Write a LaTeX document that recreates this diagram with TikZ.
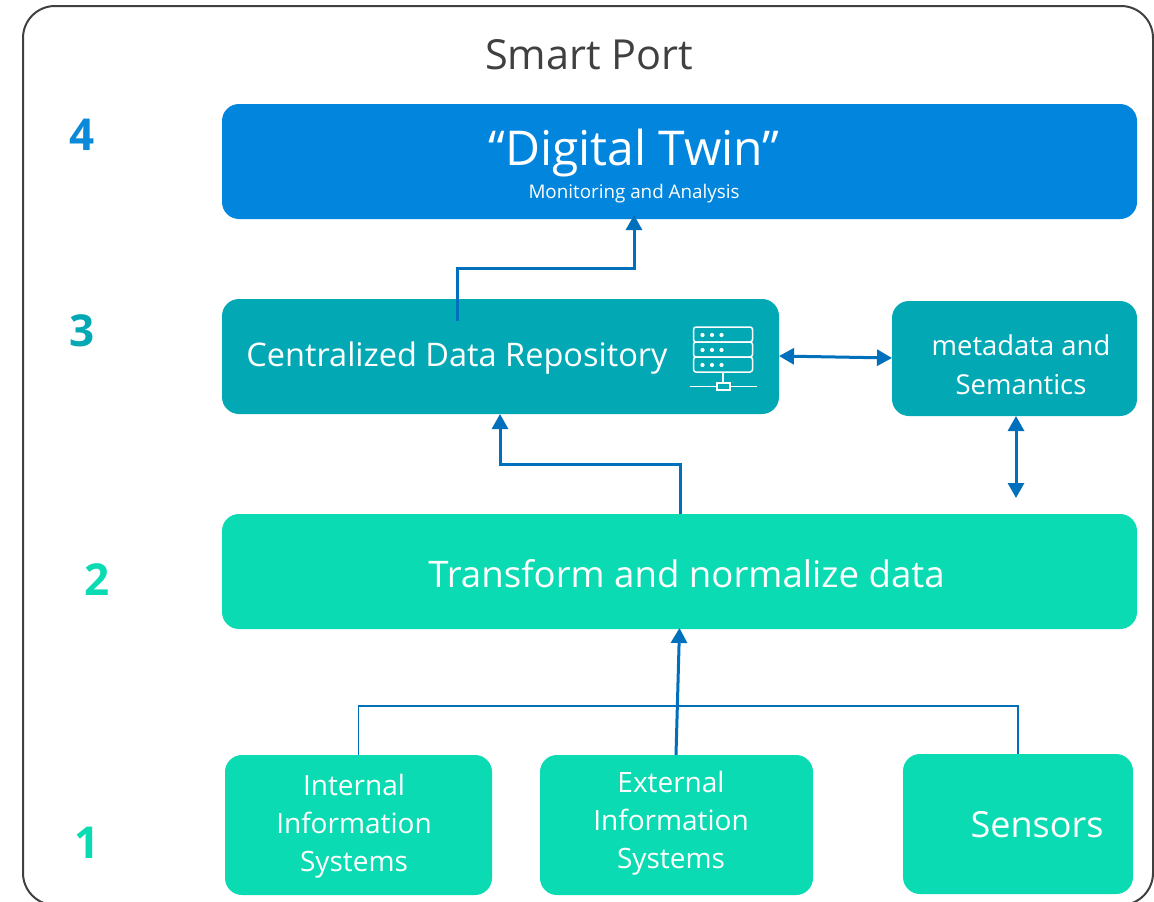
\documentclass[tikz,border=0pt]{standalone}
\usepackage{fontspec}
\setmainfont{Open Sans}
\usetikzlibrary{arrows.meta}
\definecolor{twinblue}{HTML}{0285DD}
\definecolor{repoteal}{HTML}{02A9B5}
\definecolor{mint}{HTML}{0ADBB2}
\definecolor{arrowblue}{HTML}{0070BC}
\definecolor{frameink}{HTML}{404040}
\definecolor{numfour}{HTML}{0A8AD8}
\definecolor{numthree}{HTML}{02A9B5}
\tikzset{
  x=1pt,y=-1pt,
  blockbox/.style={rectangle,rounded corners=17pt,inner sep=0pt,draw=none},
  labeltext/.style={text=white,inner sep=0pt,align=center},
  levelnum/.style={inner sep=0pt,font=\fontsize{44}{48}\selectfont\bfseries},
  flow/.style={draw=arrowblue,line width=3pt,-{Triangle[length=15pt,width=16pt]}},
  twoway/.style={draw=arrowblue,line width=3pt,{Triangle[length=15pt,width=16pt]}-{Triangle[length=15pt,width=16pt]}},
  thinlink/.style={draw=arrowblue,line width=1.3pt},
  iconline/.style={draw=white,line width=1.5pt},
}
\begin{document}
\begin{tikzpicture}
\useasboundingbox (0,0) rectangle (1154,902);
\fill[white] (0,0) rectangle (1154,902);
\begin{scope}
\clip (0,0) rectangle (1154,902);
\draw[frameink,line width=2pt,rounded corners=32pt] (23,905) -- (23,6) -- (1153,6) -- (1153,905) -- cycle;
\end{scope}
\node[inner sep=0pt,text=frameink,font=\fontsize{41.4}{46}\selectfont] (title) at (589,55) {Smart Port};

\node[blockbox,fill=twinblue,minimum width=915pt,minimum height=115pt] (twin) at (679.5,161.5) {};
\node[blockbox,fill=repoteal,minimum width=557pt,minimum height=115pt] (repo) at (500.5,356.5) {};
\node[blockbox,fill=repoteal,minimum width=245pt,minimum height=115pt] (meta) at (1014.5,358.5) {};
\node[blockbox,fill=mint,minimum width=915pt,minimum height=115pt] (transform) at (679.5,571.5) {};
\node[blockbox,fill=mint,minimum width=267pt,minimum height=140pt] (internal) at (358.5,825) {};
\node[blockbox,fill=mint,minimum width=273pt,minimum height=140pt] (external) at (676.5,825) {};
\node[blockbox,fill=mint,minimum width=230pt,minimum height=140pt] (sensors) at (1018,824) {};

\node[labeltext,font=\fontsize{48}{52}\selectfont] (twinlabel) at (634,153) {“Digital Twin”};
\node[labeltext,font=\fontsize{18.8}{22}\selectfont] (twinsub) at (634,193.5) {Monitoring and Analysis};
\node[labeltext,font=\fontsize{32.5}{38}\selectfont] (repolabel) at (457,358) {Centralized Data Repository};
\node[labeltext,font=\fontsize{27.4}{39}\selectfont] (metalabel) at (1021,364.5) {metadata and\\Semantics};
\node[labeltext,font=\fontsize{36.6}{42}\selectfont] (translabel) at (686.5,574) {Transform and normalize data};
\node[labeltext,font=\fontsize{28}{38}\selectfont] (intlabel) at (354,826.5) {Internal\\Information\\Systems};
\node[labeltext,font=\fontsize{28}{38}\selectfont] (extlabel) at (671,823.5) {External\\Information\\Systems};
\node[labeltext,font=\fontsize{36}{42}\selectfont] (senslabel) at (1037,824.5) {Sensors};

\node[levelnum,text=numfour] (lfour) at (82,135) {4};
\node[levelnum,text=numthree] (lthree) at (82,331) {3};
\node[levelnum,text=mint] (ltwo) at (97,580) {2};
\node[levelnum,text=mint] (lone) at (87,843) {1};

% server icon
\draw[iconline,rounded corners=2.5pt] (693.5,327) rectangle (752.5,342);
\draw[iconline,rounded corners=2.5pt] (693.5,342) rectangle (752.5,357);
\draw[iconline,rounded corners=2.5pt] (693.5,357) rectangle (752.5,372);
\foreach \yy in {335,350,365}{\foreach \xx in {702.5,712,721.5}{\fill[white] (\xx,\yy) circle (2.1pt);}}
\draw[iconline] (723,372) -- (723,383);
\draw[iconline] (690,386.5) -- (717,386.5);
\draw[iconline] (730,386.5) -- (757,386.5);
\draw[iconline] (717,383) rectangle (730,390);

% connectors
\coordinate (repoup) at (457,321);
\coordinate (twinin) at (634,215);
\draw[flow] (repoup) -- (457,268) -- (634,268) -- (twinin);
\coordinate (transout) at (680,514);
\coordinate (repoin) at (500,414);
\draw[flow] (transout) -- (680,464) -- (500,464) -- (repoin);
\coordinate (repor) at (779,356);
\coordinate (metal) at (892,358);
\draw[twoway] (repor) -- (metal);
\coordinate (metab) at (1016,416);
\coordinate (metaend) at (1016,498);
\draw[twoway] (metab) -- (metaend);
\coordinate (extout) at (676,755);
\coordinate (transin) at (679.5,628);
\draw[flow] (extout) -- (transin);
\coordinate (intout) at (358.5,755);
\coordinate (sensout) at (1018,754);
\draw[thinlink] (intout) -- (358.5,706) -- (1018,706) -- (sensout);
\end{tikzpicture}
\end{document}
